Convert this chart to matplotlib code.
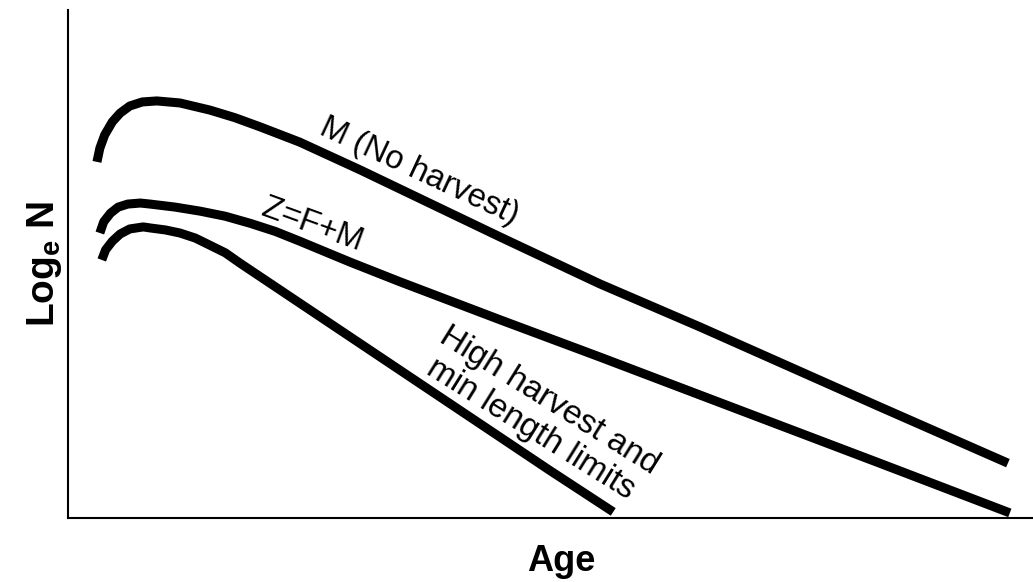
import matplotlib
matplotlib.use("Agg")
import matplotlib.pyplot as plt

# curve values (age and log N in arbitrary 0-100 units)
m_age = [3.0, 3.3, 3.8, 4.6, 5.4, 6.4, 7.7, 9.2, 11.6, 14.7, 17.3, 19.9, 24.0, 30.3, 44.8, 55.1, 65.5, 84.1, 97.4]
m_logn = [70.1, 72.8, 75.4, 78.0, 79.7, 81.1, 81.9, 82.1, 81.7, 80.3, 78.8, 77.0, 74.0, 68.5, 55.3, 46.1, 37.6, 21.9, 10.8]

z_age = [3.3, 3.7, 4.4, 5.2, 6.2, 7.5, 8.5, 11.1, 13.7, 16.3, 18.9, 21.5, 24.0, 29.2, 34.4, 44.8, 55.1, 65.5, 84.1, 97.6]
z_logn = [56.1, 58.3, 60.0, 61.2, 61.8, 62.0, 61.8, 61.2, 60.4, 59.4, 58.0, 56.4, 54.5, 50.4, 46.5, 39.0, 31.7, 24.2, 10.8, 1.0]

high_age = [3.5, 3.9, 4.6, 5.4, 6.4, 7.8, 8.5, 10.1, 11.6, 13.2, 14.7, 16.3, 17.8, 18.9, 49.9, 56.5]
high_logn = [50.8, 52.8, 54.5, 55.9, 56.9, 57.3, 57.1, 56.7, 56.1, 55.1, 53.7, 52.2, 50.2, 48.8, 9.4, 1.2]

labels = ["M (No harvest)", "Z=F+M", "High harvest and\nmin length limits"]

plt.rcParams["font.family"] = ["Liberation Sans", "DejaVu Sans"]
plt.rcParams["mathtext.fontset"] = "custom"
plt.rcParams["mathtext.rm"] = "Liberation Sans"
plt.rcParams["mathtext.bf"] = "Liberation Sans:bold"

fig = plt.figure(figsize=(10.33, 5.82), dpi=100)
ax = fig.add_axes([68 / 1033, 64 / 582, 965 / 1033, 508 / 582])

line_kw = dict(color="black", linewidth=6.5, solid_capstyle="butt", solid_joinstyle="round")
ax.plot(m_age, m_logn, **line_kw)
ax.plot(z_age, z_logn, **line_kw)
ax.plot(high_age, high_logn, **line_kw)

ax.set_xlim(0, 100)
ax.set_ylim(0, 100)

ax.text(36.4, 68.3, labels[0], fontsize=23.5, rotation=-25, ha="center", va="center",
        rotation_mode="anchor")
ax.text(25.3, 57.7, labels[1], fontsize=23.5, rotation=-20, ha="center", va="center",
        rotation_mode="anchor")
ax.text(48.9, 20.3, labels[2], fontsize=24, rotation=-32, ha="center", va="center",
        rotation_mode="anchor", linespacing=1.1)

ax.set_xticks([])
ax.set_yticks([])
ax.spines["top"].set_visible(False)
ax.spines["right"].set_visible(False)
for side in ("left", "bottom"):
    ax.spines[side].set_linewidth(1.5)

ax.set_xlabel("Age", fontsize=26, fontweight="bold", labelpad=19, x=0.511)
ax.set_ylabel(r"Log$_\mathbf{e}$ N", fontsize=28, fontweight="bold", labelpad=3)

fig.savefig("out.png", dpi=100)
